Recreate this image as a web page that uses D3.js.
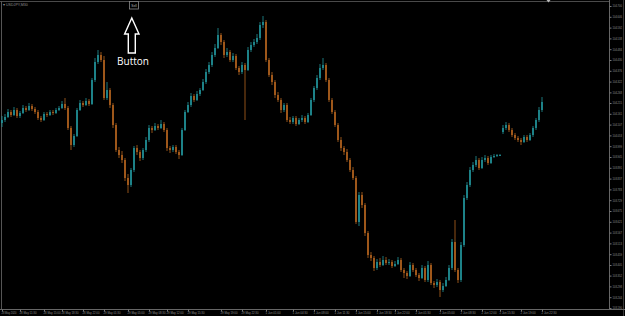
<!DOCTYPE html>
<html><head><meta charset="utf-8">
<script src="https://cdn.jsdelivr.net/npm/d3@7"></script>
<style>html,body{margin:0;padding:0;background:#000;overflow:hidden}</style>
</head><body>
<svg id="c" width="625" height="316"></svg>
<script>
const symbolLabel = "USDJPY,M30";
const buttonText = "Sell";
const calloutText = "Button";

const openP = [
104.115,104.130,104.145,104.170,104.155,104.180,104.150,104.165,104.190,104.180,
104.200,104.185,104.170,104.140,104.130,104.160,104.155,104.170,104.165,104.180,
104.190,104.210,104.190,104.090,104.005,104.050,104.180,104.215,104.205,104.225,
104.210,104.330,104.420,104.455,104.430,104.240,104.280,104.205,104.105,103.980,
103.955,103.930,103.840,103.805,103.880,103.990,103.970,103.940,103.980,104.030,
104.090,104.080,104.100,104.090,104.110,104.080,103.990,103.980,103.995,103.970,
103.955,104.080,104.170,104.205,104.250,104.230,104.260,104.280,104.320,104.370,
104.405,104.455,104.490,104.555,104.520,104.455,104.470,104.430,104.450,104.390,
104.370,104.405,104.380,104.480,104.505,104.520,104.540,104.605,104.620,104.430,
104.355,104.320,104.255,104.230,104.180,104.205,104.130,104.120,104.140,104.110,
104.130,104.140,104.120,104.155,104.230,104.290,104.340,104.390,104.405,104.330,
104.230,104.170,104.105,104.030,103.990,103.970,103.930,103.880,103.840,103.620,
103.755,103.705,103.565,103.455,103.440,103.390,103.420,103.405,103.430,103.415,
103.420,103.400,103.410,103.430,103.380,103.365,103.350,103.405,103.380,103.355,
103.340,103.390,103.330,103.405,103.315,103.305,103.320,103.280,103.300,103.330,
103.390,103.520,103.380,103.330,103.505,103.740,103.805,103.880,103.905,103.930,
103.890,103.930,103.940,103.915,103.945,103.950,103.955,104.070,104.090,104.105,
104.080,104.055,104.040,104.030,104.020,104.045,104.030,104.055,104.090,104.130,104.180];

const highP = [
104.150,104.160,104.185,104.180,104.195,104.190,104.175,104.205,104.200,104.215,
104.210,104.195,104.180,104.150,104.170,104.170,104.180,104.180,104.190,104.200,
104.225,104.240,104.200,104.100,104.060,104.190,104.230,104.225,104.240,104.235,
104.340,104.440,104.480,104.470,104.450,104.320,104.290,104.215,104.115,103.995,
103.975,103.940,103.860,103.890,104.000,104.005,103.980,103.990,104.045,104.105,
104.100,104.115,104.110,104.130,104.120,104.090,104.000,104.005,104.005,103.980,
104.090,104.180,104.220,104.265,104.260,104.275,104.290,104.335,104.385,104.420,
104.470,104.510,104.590,104.565,104.530,104.490,104.480,104.465,104.460,104.400,
104.420,104.415,104.495,104.520,104.535,104.560,104.620,104.650,104.630,104.440,
104.370,104.330,104.270,104.240,104.215,104.215,104.145,104.150,104.150,104.140,
104.155,104.150,104.165,104.240,104.300,104.355,104.410,104.440,104.415,104.340,
104.240,104.180,104.115,104.045,104.000,103.985,103.940,103.895,103.850,103.770,
103.770,103.715,103.575,103.470,103.450,103.435,103.440,103.450,103.445,103.435,
103.430,103.425,103.445,103.440,103.390,103.375,103.420,103.415,103.390,103.365,
103.405,103.400,103.425,103.415,103.325,103.335,103.330,103.315,103.345,103.405,
103.535,103.630,103.390,103.520,103.755,103.820,103.895,103.920,103.950,103.940,
103.945,103.955,103.950,103.955,103.960,103.960,103.960,104.105,104.120,104.115,
104.090,104.065,104.050,104.040,104.055,104.055,104.065,104.100,104.140,104.195,104.245];

const lowP = [
104.095,104.120,104.140,104.145,104.150,104.140,104.140,104.160,104.170,104.175,
104.175,104.160,104.130,104.120,104.125,104.145,104.150,104.155,104.160,104.175,
104.185,104.180,104.080,103.980,103.995,104.045,104.175,104.195,104.200,104.200,
104.205,104.320,104.410,104.420,104.230,104.230,104.190,104.090,103.970,103.940,
103.915,103.825,103.765,103.795,103.870,103.955,103.925,103.930,103.970,104.020,
104.065,104.075,104.080,104.085,104.070,103.975,103.965,103.970,103.960,103.935,
103.950,104.075,104.165,104.195,104.220,104.225,104.250,104.275,104.310,104.360,
104.395,104.445,104.485,104.505,104.440,104.445,104.420,104.420,104.380,104.355,
104.360,104.130,104.375,104.470,104.495,104.510,104.530,104.590,104.420,104.345,
104.305,104.240,104.220,104.165,104.170,104.120,104.110,104.110,104.100,104.105,
104.120,104.110,104.115,104.150,104.220,104.280,104.330,104.380,104.320,104.220,
104.160,104.095,104.020,103.975,103.955,103.920,103.870,103.830,103.610,103.600,
103.690,103.550,103.440,103.425,103.375,103.380,103.395,103.400,103.405,103.405,
103.390,103.395,103.405,103.370,103.340,103.335,103.345,103.370,103.345,103.325,
103.335,103.320,103.320,103.305,103.290,103.295,103.245,103.270,103.295,103.325,
103.380,103.370,103.315,103.320,103.495,103.730,103.795,103.870,103.895,103.880,
103.885,103.920,103.905,103.910,103.940,103.945,103.950,104.060,104.080,104.070,
104.045,104.030,104.020,104.005,104.015,104.020,104.025,104.045,104.080,104.120,104.170];

const closeP = [
104.130,104.145,104.170,104.155,104.180,104.150,104.165,104.190,104.180,104.200,
104.185,104.170,104.140,104.130,104.160,104.155,104.170,104.165,104.180,104.190,
104.210,104.190,104.090,104.005,104.050,104.180,104.215,104.205,104.225,104.210,
104.330,104.420,104.455,104.430,104.240,104.280,104.205,104.105,103.980,103.955,
103.930,103.840,103.805,103.880,103.990,103.970,103.940,103.980,104.030,104.090,
104.080,104.100,104.090,104.110,104.080,103.990,103.980,103.995,103.970,103.955,
104.080,104.170,104.205,104.250,104.230,104.260,104.280,104.320,104.370,104.405,
104.455,104.490,104.555,104.520,104.455,104.470,104.430,104.450,104.390,104.370,
104.405,104.380,104.480,104.505,104.520,104.540,104.605,104.620,104.430,104.355,
104.320,104.255,104.230,104.180,104.205,104.130,104.120,104.140,104.110,104.130,
104.140,104.120,104.155,104.230,104.290,104.340,104.390,104.405,104.330,104.230,
104.170,104.105,104.030,103.990,103.970,103.930,103.880,103.840,103.620,103.755,
103.705,103.565,103.455,103.440,103.390,103.420,103.405,103.430,103.415,103.420,
103.400,103.410,103.430,103.380,103.365,103.350,103.405,103.380,103.355,103.340,
103.390,103.330,103.405,103.315,103.305,103.320,103.280,103.300,103.330,103.390,
103.520,103.380,103.330,103.505,103.740,103.805,103.880,103.905,103.930,103.890,
103.930,103.940,103.915,103.945,103.950,103.955,103.955,104.090,104.105,104.080,
104.055,104.040,104.030,104.020,104.045,104.030,104.055,104.090,104.130,104.180,104.220];

const priceTicks = [104.700,104.646,104.592,104.538,104.484,104.430,104.376,104.322,104.268,104.215,
104.161,104.107,104.053,103.999,103.945,103.891,103.837,103.783,103.729,103.675,
103.621,103.567,103.513,103.459,103.405,103.352,103.298,103.244,103.190];

const timeLabels = ["28 May 2020","28 May 11:30","28 May 15:00","28 May 18:30","28 May 22:00","29 May 01:30",
"29 May 05:00","29 May 08:30","29 May 12:00","29 May 15:30","29 May 19:00","29 May 22:30","1 Jun 01:00",
"1 Jun 04:30","1 Jun 08:00","1 Jun 11:30","1 Jun 15:00","1 Jun 18:30","1 Jun 22:00","2 Jun 01:30",
"2 Jun 05:00","2 Jun 08:30","2 Jun 12:00","2 Jun 15:30","2 Jun 19:00","2 Jun 22:30"];
const timeLabelBars = [0,6,14,20,27,34,42,49,55,62,73,80,88,97,104,111,118,125,131,138,146,153,160,166,173,180];

const W = 625, H = 316;
const FONT = "Liberation Sans, Arial, sans-serif";
const svg = d3.select("#c");
svg.append("rect").attr("width", W).attr("height", H).attr("fill", "#000");

const n = closeP.length;
const bars = d3.range(n).map(i => ({i, o: openP[i], h: highP[i], l: lowP[i], c: closeP[i]}));

const x = d3.scaleLinear().domain([0, n - 1]).range([2, 542]);
const y = d3.scaleLinear().domain([103.19, 104.73]).range([308, 0]);

const upCol = "#22959b", dnCol = "#b4641e";

// frame
const g = svg.append("g");
g.append("line").attr("x1", 0).attr("x2", 609).attr("y1", 1.5).attr("y2", 1.5).attr("stroke", "#4a4a4a").attr("stroke-width", 1);
g.append("line").attr("x1", 1.5).attr("x2", 1.5).attr("y1", 1).attr("y2", 309).attr("stroke", "#555").attr("stroke-width", 1);
g.append("line").attr("x1", 623.5).attr("x2", 623.5).attr("y1", 0).attr("y2", 316).attr("stroke", "#3a3a3a").attr("stroke-width", 1);

// candles
const cg = svg.append("g");
cg.selectAll("line.w").data(bars).join("line").attr("class", "w")
  .attr("x1", d => x(d.i)).attr("x2", d => x(d.i))
  .attr("y1", d => y(d.h)).attr("y2", d => y(d.l))
  .attr("stroke", d => d.c >= d.o ? upCol : dnCol).attr("stroke-width", 0.8);
cg.selectAll("rect.b").data(bars).join("rect").attr("class", "b")
  .attr("x", d => x(d.i) - 0.8).attr("width", 1.6)
  .attr("y", d => y(Math.max(d.o, d.c)))
  .attr("height", d => Math.max(1, Math.abs(y(d.o) - y(d.c))))
  .attr("fill", d => d.c >= d.o ? upCol : dnCol);

// right price axis
const ay = svg.append("g").attr("transform", "translate(609.5,0)")
  .call(d3.axisRight(y).tickValues(priceTicks).tickSize(2).tickSizeOuter(0).tickFormat(d3.format(".3f")));
ay.select(".domain").attr("stroke", "#666").attr("d", "M0,0V309");
ay.selectAll(".tick line").attr("stroke", "#777");
ay.selectAll("text").attr("fill", "#8f8f8f").attr("font-size", 2.8).attr("font-family", FONT)
  .attr("x", 3).attr("textLength", 9.5).attr("lengthAdjust", "spacingAndGlyphs");

// bottom time axis
const ax = svg.append("g").attr("transform", "translate(0,309.5)")
  .call(d3.axisBottom(x).tickValues(timeLabelBars).tickSize(2).tickSizeOuter(0)
    .tickFormat((d, k) => timeLabels[k]));
ax.select(".domain").attr("stroke", "#666").attr("d", "M0,0H625");
ax.selectAll(".tick line").attr("stroke", "#777");
ax.selectAll("text").attr("fill", "#8f8f8f").attr("font-size", 3.0).attr("font-family", FONT)
  .attr("text-anchor", "start").attr("dx", -1).attr("y", 2.5)
  .attr("textLength", (d, k) => timeLabels[k].length > 11 ? 17 : 15).attr("lengthAdjust", "spacingAndGlyphs");

// symbol label
svg.append("text").attr("x", 3).attr("y", 6).attr("fill", "#8f8f8f").attr("font-size", 3.6)
  .attr("font-family", FONT).text("\u25BE " + symbolLabel);

// shift marker
svg.append("path").attr("d", "M546.5,0 L550.5,0 L548.5,2.5 Z").attr("fill", "#bbb");

// button
svg.append("rect").attr("x", 129.5).attr("y", 1.5).attr("width", 9).attr("height", 7.5)
  .attr("fill", "#000").attr("stroke", "#8a8a8a").attr("stroke-width", 0.8);
svg.append("text").attr("x", 134).attr("y", 6.6).attr("text-anchor", "middle").attr("fill", "#bbb")
  .attr("font-size", 3.2).attr("font-family", FONT).text(buttonText);

// arrow
svg.append("path").attr("d", "M131.8,18 L139,34 L135.3,34 L135.3,53 L128.3,53 L128.3,34 L124.6,34 Z")
  .attr("fill", "none").attr("stroke", "#fff").attr("stroke-width", 1.4).attr("stroke-linejoin", "miter");
svg.append("text").attr("x", 133).attr("y", 64.5).attr("text-anchor", "middle").attr("fill", "#fff")
  .attr("font-size", 10).attr("font-family", "Open Sans, sans-serif").text(calloutText);
</script>
</body></html>
